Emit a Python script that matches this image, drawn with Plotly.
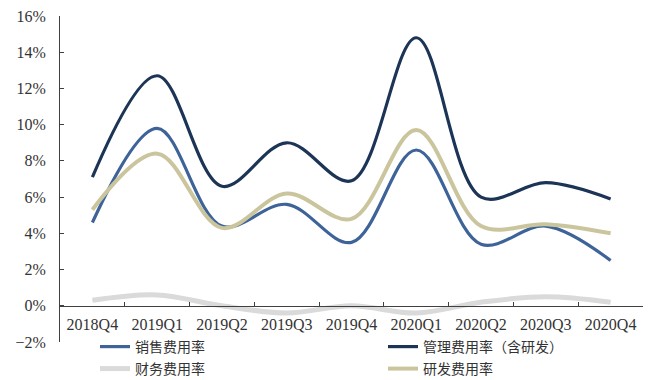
import plotly.graph_objects as go

quarters = ["2018Q4", "2019Q1", "2019Q2", "2019Q3", "2019Q4",
            "2020Q1", "2020Q2", "2020Q3", "2020Q4"]

# expense ratios, in percent
sales_ratio = [4.6, 9.8, 4.4, 5.6, 3.5, 8.6, 3.4, 4.4, 2.5]
admin_ratio = [7.1, 12.7, 6.6, 9.0, 6.9, 14.8, 6.0, 6.8, 5.9]
finance_ratio = [0.3, 0.6, 0.0, -0.4, 0.0, -0.4, 0.2, 0.5, 0.2]
rd_ratio = [5.3, 8.4, 4.3, 6.2, 4.8, 9.7, 4.4, 4.5, 4.0]

series = [
    ("销售费用率", sales_ratio, "#3D6399", 3.2, "legend"),
    ("管理费用率（含研发）", admin_ratio, "#1C3556", 3.2, "legend2"),
    ("财务费用率", finance_ratio, "#DADADA", 5, "legend3"),
    ("研发费用率", rd_ratio, "#CBC59E", 4, "legend4"),
]

fig = go.Figure()
for name, vals, color, width, leg in series:
    fig.add_trace(go.Scatter(
        x=quarters, y=vals, name=name, mode="lines",
        line=dict(color=color, width=width, shape="spline", smoothing=1.0),
        legend=leg,
    ))

# draw the gray series beneath the others
fig.data = (fig.data[2], fig.data[0], fig.data[1], fig.data[3])

axis_font = dict(family="Liberation Serif, Times New Roman, serif", size=16, color="#333333")
leg_font = dict(family="Noto Sans CJK SC, sans-serif", size=14, color="#333333")

def legend_box(x, y):
    return dict(x=x, y=y, xanchor="left", yanchor="middle", xref="paper", yref="paper",
                bgcolor="rgba(0,0,0,0)", font=leg_font, borderwidth=0,
                itemwidth=30, tracegroupgap=0)

plot_h = 380 - 16 - 38
def py(pix):
    # vertical pixel in the page -> paper fraction
    return (380 - 38 - pix) / plot_h

def px(pix):
    return (pix - 60) / (648 - 60 - 5)

fig.update_layout(
    width=648, height=380,
    margin=dict(l=60, r=5, t=16, b=38, autoexpand=False),
    paper_bgcolor="white", plot_bgcolor="white",
    showlegend=True,
    legend=legend_box(px(95), py(347)),
    legend2=legend_box(px(383), py(347)),
    legend3=legend_box(px(95), py(369)),
    legend4=legend_box(px(383), py(369)),
    xaxis=dict(
        type="category", anchor="free", position=2 / 18, automargin=False,
        showline=True, linecolor="#404040", linewidth=1,
        ticks="inside", ticklen=4, tickcolor="#404040", tickson="boundaries",
        showgrid=False, zeroline=False, tickfont=axis_font,
        ticklabelstandoff=4,
        range=[-0.5, 8.5],
    ),
    yaxis=dict(
        range=[-2, 16], dtick=2, ticksuffix="%", automargin=False,
        showline=True, linecolor="#404040", linewidth=1,
        ticks="inside", ticklen=4, tickcolor="#404040",
        showgrid=False, zeroline=False, tickfont=axis_font,
        ticklabelstandoff=10,
    ),
)

fig.write_html("out.html")
